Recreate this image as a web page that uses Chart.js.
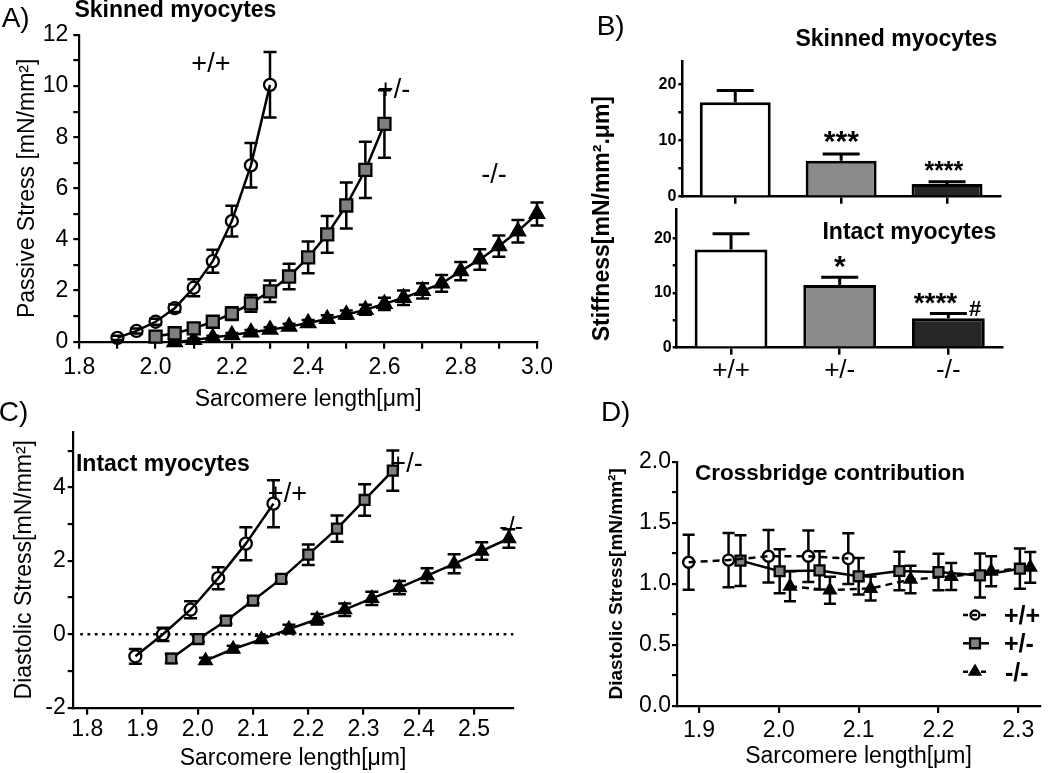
<!DOCTYPE html>
<html>
<head>
<meta charset="utf-8">
<script src="https://cdn.jsdelivr.net/npm/chart.js@4.4.1/dist/chart.umd.min.js"></script>
<style>
html,body{margin:0;padding:0;background:#fff;}
#wrap{position:relative;width:1050px;height:773px;overflow:hidden;background:#fff;}
#wrap canvas{position:absolute;left:0;top:0;width:1050px;height:773px;}
</style>
</head>
<body>
<div id="wrap">
<canvas id="cA" width="1050" height="773"></canvas>
<canvas id="cB1" width="1050" height="773"></canvas>
<canvas id="cB2" width="1050" height="773"></canvas>
<canvas id="cC" width="1050" height="773"></canvas>
<canvas id="cD" width="1050" height="773"></canvas>
</div>
<script>
// ---------------- DATA ----------------
const genotypes = ['+/+', '+/-', '-/-'];

// Panel A: skinned myocytes, passive stress vs sarcomere length
const aX_wt  = [1.9, 1.95, 2.0, 2.05, 2.1, 2.15, 2.2, 2.25, 2.3];
const aY_wt  = [0.15, 0.42, 0.78, 1.31, 2.11, 3.15, 4.72, 6.9, 10.05];
const aE_wt  = [0.08, 0.1, 0.12, 0.15, 0.33, 0.45, 0.6, 0.87, 1.28];
const aX_het = [2.0, 2.05, 2.1, 2.15, 2.2, 2.25, 2.3, 2.35, 2.4, 2.45, 2.5, 2.55, 2.6];
const aY_het = [0.2, 0.33, 0.52, 0.78, 1.1, 1.5, 1.97, 2.55, 3.3, 4.2, 5.33, 6.72, 8.52];
const aE_het = [0.08, 0.1, 0.12, 0.15, 0.25, 0.33, 0.42, 0.5, 0.62, 0.72, 0.9, 1.1, 1.32];
const aX_ko  = [2.05, 2.1, 2.15, 2.2, 2.25, 2.3, 2.35, 2.4, 2.45, 2.5, 2.55, 2.6, 2.65, 2.7, 2.75, 2.8, 2.85, 2.9, 2.95, 3.0];
const aY_ko  = [-0.02, 0.07, 0.16, 0.26, 0.37, 0.47, 0.59, 0.73, 0.89, 1.06, 1.25, 1.48, 1.72, 1.99, 2.28, 2.76, 3.22, 3.74, 4.32, 5.0];
const aE_ko  = [0.05, 0.06, 0.07, 0.08, 0.09, 0.1, 0.11, 0.12, 0.14, 0.16, 0.2, 0.24, 0.28, 0.3, 0.33, 0.36, 0.4, 0.42, 0.44, 0.45];
const aXTicks = [1.8, 1.9, 2.0, 2.1, 2.2, 2.3, 2.4, 2.5, 2.6, 2.7, 2.8, 2.9, 3.0];
const aXTickLabels = ['1.8', '', '2.0', '', '2.2', '', '2.4', '', '2.6', '', '2.8', '', '3.0'];
const aYTicks = [0, 1, 2, 3, 4, 5, 6, 7, 8, 9, 10, 11, 12];
const aYTickLabels = ['0', '', '2', '', '4', '', '6', '', '8', '', '10', '', '12'];

// Panel B: stiffness bars
const bSkinned    = [16.8, 6.4, 2.25];
const bSkinnedErr = [2.1, 1.2, 0.4];
const bIntact     = [17.95, 11.45, 5.37];
const bIntactErr  = [2.9, 1.45, 0.9];
const bTopTicks = [0, 5, 10, 15, 20];
const bTopTickLabels = ['0', '', '10', '', '20'];
const bBotTicks = [0, 5, 10, 15, 20];
const bBotTickLabels = ['0', '', '10', '', '20'];

// Panel C: intact myocytes, diastolic stress
const cX_wt  = [1.887, 1.937, 1.987, 2.037, 2.087, 2.137];
const cY_wt  = [-0.6, 0.0, 0.67, 1.53, 2.47, 3.56];
const cE_wt  = [0.2, 0.18, 0.23, 0.3, 0.45, 0.64];
const cX_het = [1.952, 2.001, 2.051, 2.1, 2.151, 2.2, 2.252, 2.302, 2.353];
const cY_het = [-0.66, -0.13, 0.37, 0.92, 1.51, 2.17, 2.88, 3.66, 4.46];
const cE_het = [0.12, 0.08, 0.08, 0.08, 0.1, 0.28, 0.36, 0.43, 0.55];
const cX_ko  = [2.014, 2.064, 2.115, 2.165, 2.216, 2.266, 2.315, 2.365, 2.415, 2.464, 2.514, 2.563];
const cY_ko  = [-0.72, -0.4, -0.14, 0.14, 0.41, 0.67, 0.98, 1.27, 1.6, 1.92, 2.27, 2.61];
const cE_ko  = [0.08, 0.09, 0.1, 0.12, 0.14, 0.17, 0.18, 0.18, 0.2, 0.26, 0.24, 0.25];
const cXTicks = [1.8, 1.9, 2.0, 2.1, 2.2, 2.3, 2.4, 2.5];
const cXTickLabels = ['1.8', '1.9', '2.0', '2.1', '2.2', '2.3', '2.4', '2.5'];
const cYTicks = [-2, -1, 0, 1, 2, 3, 4, 5];
const cYTickLabels = ['-2', '', '0', '', '2', '', '4', ''];

// Panel D: crossbridge contribution
const dX_wt  = [1.887, 1.937, 1.987, 2.037, 2.087];
const dY_wt  = [1.177, 1.195, 1.226, 1.226, 1.207];
const dE_wt  = [0.225, 0.222, 0.214, 0.21, 0.208];
const dX_het = [1.952, 2.001, 2.051, 2.1, 2.151, 2.2, 2.252, 2.302];
const dY_het = [1.19, 1.103, 1.11, 1.062, 1.105, 1.097, 1.069, 1.124];
const dE_het = [0.207, 0.18, 0.157, 0.15, 0.157, 0.15, 0.18, 0.165];
const dX_ko  = [2.014, 2.064, 2.115, 2.165, 2.216, 2.266, 2.315];
const dY_ko  = [0.98, 0.948, 0.962, 1.036, 1.06, 1.103, 1.135];
const dE_ko  = [0.123, 0.11, 0.098, 0.112, 0.11, 0.123, 0.125];
const dXTicks = [1.9, 2.0, 2.1, 2.2, 2.3];
const dXTickLabels = ['1.9', '2.0', '2.1', '2.2', '2.3'];
const dYTicks = [0, 0.25, 0.5, 0.75, 1.0, 1.25, 1.5, 1.75, 2.0];
const dYTickLabels = ['0.0', '', '0.5', '', '1.0', '', '1.5', '', '2.0'];

// ---------------- HELPERS ----------------
const FONT = "'Liberation Sans', Arial, Helvetica, sans-serif";
Chart.defaults.font.family = FONT;
Chart.defaults.color = '#000';

const pts = (xs, ys) => xs.map((x, i) => ({x: x, y: ys[i]}));

function linAxis(o) {
  return {
    type: 'linear', min: o.min, max: o.max,
    afterBuildTicks: s => { s.ticks = o.ticks.map(v => ({value: v})); },
    afterFit: s => { if (o.w !== undefined) s.width = o.w; if (o.h !== undefined) s.height = o.h; },
    ticks: { autoSkip: false, maxRotation: 0, minRotation: 0, padding: o.pad, color: '#000',
      font: {family: FONT, size: o.fs, weight: o.fw || 'normal'},
      callback: (v, i) => o.labels[i] },
    grid: { display: true, drawOnChartArea: false, drawTicks: true, tickLength: o.tl,
      lineWidth: o.lw || 2.2, tickWidth: o.lw || 2.2, color: '#000', tickColor: '#000' },
    border: { display: true, color: '#000', width: o.lw || 2.2 },
    title: o.title ? { display: true, text: o.title, color: '#000',
      font: {family: FONT, size: o.tfs, weight: o.tfw || 'normal', lineHeight: 1.2}, padding: o.tpad }
      : { display: false }
  };
}

function drawErr(chart, after) {
  const ctx = chart.ctx;
  chart.data.datasets.forEach((ds, di) => {
    if (!ds.errors || (!!ds.errAfter) !== after) return;
    const meta = chart.getDatasetMeta(di);
    const ys = chart.scales[meta.yAxisID];
    ctx.save();
    ctx.strokeStyle = '#000';
    ctx.lineWidth = ds.errWidth || 2;
    ctx.setLineDash([]);
    meta.data.forEach((el, i) => {
      const raw = ds.data[i];
      const val = (typeof raw === 'object') ? raw.y : raw;
      const e = ds.errors[i];
      const px = el.x;
      const cy = ys.getPixelForValue(val);
      const top = ys.getPixelForValue(val + e);
      const bot = ds.errUpOnly ? cy : ys.getPixelForValue(val - e);
      const hw = (ds.capWidth || 12) / 2;
      const gap = ds.errGap || 0;
      ctx.beginPath();
      if (top < cy - gap) { ctx.moveTo(px, cy - gap); ctx.lineTo(px, top); }
      if (!ds.errUpOnly && bot > cy + gap) { ctx.moveTo(px, cy + gap); ctx.lineTo(px, bot); }
      ctx.moveTo(px - hw, top); ctx.lineTo(px + hw, top);
      if (!ds.errUpOnly) { ctx.moveTo(px - hw, bot); ctx.lineTo(px + hw, bot); }
      ctx.stroke();
    });
    ctx.restore();
  });
}
const errorBarPlugin = {
  id: 'errBars',
  beforeDatasetsDraw(chart) { drawErr(chart, false); },
  afterDatasetsDraw(chart) { drawErr(chart, true); }
};

function drawInk(ctx, t, x, y, font, rot, align) {
  ctx.save();
  ctx.font = font;
  ctx.fillStyle = '#000';
  ctx.textAlign = 'left';
  ctx.textBaseline = 'alphabetic';
  const m = ctx.measureText(t);
  const w = m.actualBoundingBoxLeft + m.actualBoundingBoxRight;
  const h = m.actualBoundingBoxAscent + m.actualBoundingBoxDescent;
  ctx.translate(x, y);
  if (rot) ctx.rotate(rot);
  const x0 = align === 'left' ? m.actualBoundingBoxLeft : (-w / 2 + m.actualBoundingBoxLeft);
  ctx.fillText(t, x0, h / 2 - m.actualBoundingBoxDescent);
  ctx.restore();
}

function drawMarker(ctx, style, r, x, y, fill, stroke, lw) {
  ctx.save();
  ctx.setLineDash([]);
  ctx.beginPath();
  if (style === 'circle') ctx.arc(x, y, r, 0, Math.PI * 2);
  else if (style === 'rect') { const s = r * Math.SQRT1_2; ctx.rect(x - s, y - s, 2 * s, 2 * s); }
  else if (style === 'triangle') {
    const a = 2 * Math.PI / 3;
    ctx.moveTo(x, y - r);
    ctx.lineTo(x + r * Math.sin(a), y - r * Math.cos(a));
    ctx.lineTo(x + r * Math.sin(2 * a), y - r * Math.cos(2 * a));
    ctx.closePath();
  }
  ctx.fillStyle = fill; ctx.fill();
  ctx.lineWidth = lw; ctx.strokeStyle = stroke; ctx.stroke();
  ctx.restore();
}

function makeAnnot(items, extra) {
  return {
    id: 'annot',
    beforeDatasetsDraw(chart) { if (extra && extra.before) extra.before(chart); },
    afterDraw(chart) {
      items.forEach(it => drawInk(chart.ctx, it.t, it.x, it.y, it.font, it.rot || 0, it.align));
      if (extra && extra.after) extra.after(chart);
    }
  };
}

const base = (pad) => ({
  responsive: false, animation: false, devicePixelRatio: 1,
  layout: { padding: pad },
  plugins: { legend: { display: false }, tooltip: { enabled: false } },
  events: []
});

function lineDs(label, xs, ys, errs, st) {
  return Object.assign({
    label: label, data: pts(xs, ys), errors: errs,
    borderColor: '#000', borderWidth: 2.5, tension: 0, clip: false,
    pointBorderColor: '#000', pointBorderWidth: 2.3, capWidth: 13, errWidth: 2.5
  }, st);
}

// ---------------- PANEL A ----------------
new Chart(document.getElementById('cA'), {
  type: 'line',
  data: { datasets: [
    lineDs(genotypes[0], aX_wt, aY_wt, aE_wt, { pointStyle: 'circle', pointRadius: 6, pointBackgroundColor: 'rgba(255,255,255,0)', errGap: 6 }),
    lineDs(genotypes[1], aX_het, aY_het, aE_het, { pointStyle: 'rect', pointRadius: 8.5, pointBackgroundColor: '#7f7f7f' }),
    lineDs(genotypes[2], aX_ko, aY_ko, aE_ko, { pointStyle: 'triangle', pointRadius: 8, pointBackgroundColor: '#000' })
  ]},
  options: Object.assign(base({left: 0, top: 35, right: 513, bottom: 359.3}), {
    scales: {
      x: linAxis({min: 1.8, max: 3.0, ticks: aXTicks, labels: aXTickLabels, h: 72, fs: 23, pad: 5, tl: 7,
        title: 'Sarcomere length[μm]', tfs: 23, tpad: {top: 0, bottom: 0}}),
      y: linAxis({min: 0, max: 12, ticks: aYTicks, labels: aYTickLabels, w: 79.3, fs: 23, pad: 5, tl: 6,
        title: 'Passive Stress [mN/mm²]', tfs: 23, tpad: {top: 14, bottom: 0}})
    }
  }),
  plugins: [errorBarPlugin, makeAnnot([
    {t: 'A)', x: 15, y: 20, font: '28px ' + FONT},
    {t: 'Skinned myocytes', x: 175, y: 10.5, font: 'bold 23px ' + FONT},
    {t: '+/+', x: 211, y: 61.5, font: '27px ' + FONT},
    {t: '+/-', x: 394, y: 87.5, font: '27px ' + FONT},
    {t: '-/-', x: 494, y: 172.5, font: '27px ' + FONT}
  ])]
});

// ---------------- PANEL B ----------------
function barDs(vals, errs) {
  return {
    data: vals, errors: errs, errUpOnly: true, errAfter: true, capWidth: 37, errWidth: 3,
    backgroundColor: ['#ffffff', '#8a8a8a', '#262626'], borderColor: '#000', borderWidth: 3,
    categoryPercentage: 1, barPercentage: 0.67
  };
}
function catAxis(o) {
  return {
    type: 'category', offset: true,
    afterFit: s => { s.height = o.h; },
    ticks: { display: true, padding: o.pad, color: '#000', autoSkip: false, maxRotation: 0, minRotation: 0,
      font: {family: FONT, size: 26}, callback: (v, i) => o.show ? genotypes[i] : '' },
    grid: { display: true, offset: false, drawOnChartArea: false, drawTicks: true, tickLength: 7,
      lineWidth: 2.5, tickWidth: 2.5, color: '#000', tickColor: '#000' },
    border: { display: true, color: '#000', width: 2.5 }
  };
}
new Chart(document.getElementById('cB1'), {
  type: 'bar',
  data: { labels: genotypes, datasets: [barDs(bSkinned, bSkinnedErr)] },
  options: Object.assign(base({left: 600, top: 61.7, right: 50, bottom: 566.3}), {
    scales: {
      x: catAxis({h: 10, pad: 0, show: false}),
      y: linAxis({min: 0, max: 24, ticks: bTopTicks, labels: bTopTickLabels, w: 82.3, fs: 16, fw: 'bold', pad: 2, tl: 4, lw: 2.5})
    }
  }),
  plugins: [errorBarPlugin, makeAnnot([
    {t: 'B)', x: 611, y: 27.8, font: '28px ' + FONT},
    {t: 'Skinned myocytes', x: 896, y: 39, font: 'bold 23px ' + FONT},
    {t: '***', x: 841.5, y: 137, font: 'bold 30px ' + FONT},
    {t: '****', x: 944, y: 166, font: 'bold 25px ' + FONT}
  ])]
});
new Chart(document.getElementById('cB2'), {
  type: 'bar',
  data: { labels: genotypes, datasets: [barDs(bIntact, bIntactErr)] },
  options: Object.assign(base({left: 600, top: 209.3, right: 47.3, bottom: 375.3}), {
    scales: {
      x: catAxis({h: 50, pad: 1, show: true}),
      y: linAxis({min: 0, max: 25.3, ticks: bBotTicks, labels: bBotTickLabels, w: 76.7, fs: 16, fw: 'bold', pad: 1, tl: 4, lw: 2.5})
    }
  }),
  plugins: [errorBarPlugin, makeAnnot([
    {t: 'Intact myocytes', x: 909.5, y: 232.7, font: 'bold 23px ' + FONT},
    {t: '*', x: 840, y: 262, font: 'bold 30px ' + FONT},
    {t: '****', x: 935.5, y: 298, font: 'bold 28px ' + FONT},
    {t: '#', x: 975, y: 308, font: 'bold 22px ' + FONT},
    {t: 'Stiffness[mN/mm².μm]', x: 602, y: 219, font: 'bold 23px ' + FONT, rot: -Math.PI / 2}
  ])]
});

// ---------------- PANEL C ----------------
new Chart(document.getElementById('cC'), {
  type: 'line',
  data: { datasets: [
    lineDs(genotypes[0], cX_wt, cY_wt, cE_wt, { pointStyle: 'circle', pointRadius: 6, pointBackgroundColor: 'rgba(255,255,255,0)', errGap: 6 }),
    lineDs(genotypes[1], cX_het, cY_het, cE_het, { pointStyle: 'rect', pointRadius: 7, pointBackgroundColor: '#7f7f7f' }),
    lineDs(genotypes[2], cX_ko, cY_ko, cE_ko, { pointStyle: 'triangle', pointRadius: 7, pointBackgroundColor: '#000' })
  ]},
  options: Object.assign(base({left: 0, top: 431.7, right: 536.7, bottom: 0.9}), {
    scales: {
      x: linAxis({min: 1.7736, max: 2.5711, ticks: cXTicks, labels: cXTickLabels, h: 64.4, fs: 23, pad: 1, tl: 7,
        title: 'Sarcomere length[μm]', tfs: 23, tpad: {top: 0, bottom: 0}}),
      y: linAxis({min: -2, max: 5.52, ticks: cYTicks, labels: cYTickLabels, w: 72.7, fs: 23, pad: 2, tl: 5,
        title: 'Diastolic Stress[mN/mm²]', tfs: 23, tpad: {top: 11.2, bottom: 0}})
    }
  }),
  plugins: [errorBarPlugin, makeAnnot([
    {t: 'C)', x: 13.3, y: 414, font: '28px ' + FONT},
    {t: 'Intact myocytes', x: 163, y: 465, font: 'bold 23px ' + FONT},
    {t: '+/+', x: 287.5, y: 491.5, font: '27px ' + FONT},
    {t: '+/-', x: 406.5, y: 461.7, font: '27px ' + FONT},
    {t: '-/-', x: 511.5, y: 525.5, font: '25px ' + FONT}
  ], {
    before(chart) {
      const ctx = chart.ctx, ys = chart.scales.y, ca = chart.chartArea;
      const y0 = ys.getPixelForValue(0);
      ctx.save();
      ctx.strokeStyle = '#000'; ctx.lineWidth = 2.5; ctx.setLineDash([2.7, 4.6]);
      ctx.beginPath(); ctx.moveTo(ca.left + 7.5, y0); ctx.lineTo(ca.right, y0); ctx.stroke();
      ctx.restore();
    }
  })]
});

// ---------------- PANEL D ----------------
const dSets = [
  lineDs(genotypes[0], dX_wt, dY_wt, dE_wt, { pointStyle: 'circle', pointRadius: 5.5, pointBackgroundColor: 'rgba(255,255,255,0)', errGap: 5.5, borderDash: [7, 5], capWidth: 12 }),
  lineDs(genotypes[1], dX_het, dY_het, dE_het, { pointStyle: 'rect', pointRadius: 7, pointBackgroundColor: '#808080', capWidth: 12 }),
  lineDs(genotypes[2], dX_ko, dY_ko, dE_ko, { pointStyle: 'triangle', pointRadius: 6.5, pointBackgroundColor: '#000', borderDash: [7, 5], capWidth: 12 })
];
new Chart(document.getElementById('cD'), {
  type: 'line',
  data: { datasets: dSets },
  options: Object.assign(base({left: 595, top: 461.7, right: 10, bottom: 2.5}), {
    scales: {
      x: linAxis({min: 1.8724, max: 2.3272, ticks: dXTicks, labels: dXTickLabels, h: 64.5, fs: 23, pad: 4, tl: 7,
        title: 'Sarcomere length[μm]', tfs: 23, tpad: {top: 0, bottom: 0}}),
      y: linAxis({min: 0, max: 2.0, ticks: dYTicks, labels: dYTickLabels, w: 82, fs: 23, pad: 1, tl: 5,
        title: 'Diastolic Stress[mN/mm²]', tfs: 19, tfw: 'bold', tpad: {top: 10.3, bottom: 0}})
    }
  }),
  plugins: [errorBarPlugin, makeAnnot([
    {t: 'D)', x: 616, y: 414, font: '28px ' + FONT},
    {t: 'Crossbridge contribution', x: 829.7, y: 474, font: 'bold 22.5px ' + FONT}
  ], {
    after(chart) {
      const ctx = chart.ctx;
      const rowsY = [615, 643.3, 671.7];
      chart.data.datasets.forEach((ds, i) => {
        const y = rowsY[i];
        ctx.save();
        ctx.strokeStyle = '#000'; ctx.lineWidth = 2.5;
        ctx.setLineDash(ds.borderDash ? [5, 4] : []);
        ctx.beginPath(); ctx.moveTo(963, y); ctx.lineTo(ds.borderDash ? 986 : 989, y); ctx.stroke();
        ctx.restore();
        drawMarker(ctx, ds.pointStyle, ds.pointStyle === 'circle' ? 4.5 : (ds.pointStyle === 'rect' ? 7 : 6), 975, y,
          ds.pointStyle === 'circle' ? 'rgba(255,255,255,0)' : ds.pointBackgroundColor, '#000', 2.3);
        drawInk(ctx, ds.label, 1005, y, 'bold 25px ' + FONT, 0, 'left');
      });
    }
  })]
});
</script>
</body>
</html>
